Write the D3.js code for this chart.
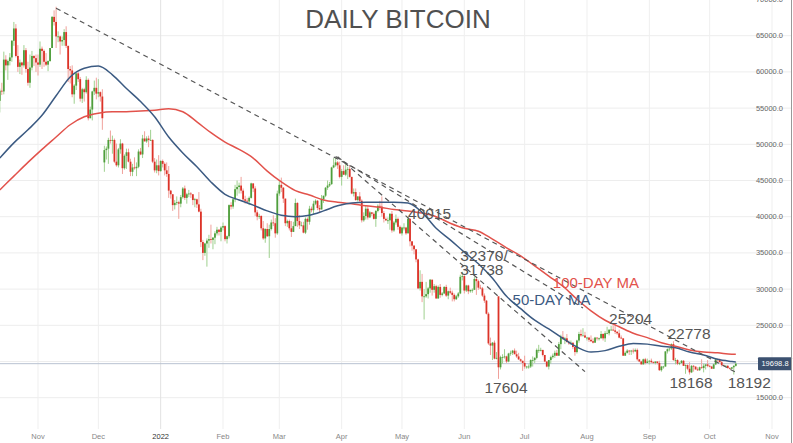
<!DOCTYPE html>
<html><head><meta charset="utf-8">
<script src="https://cdn.jsdelivr.net/npm/d3@7/dist/d3.min.js"></script>
<style>html,body{margin:0;padding:0;background:#fff;}svg{display:block;font-family:"Liberation Sans",Arial,Helvetica,sans-serif;}</style>
</head><body><svg id="chart" width="793" height="443"></svg>
<script>
// ---------------- DATA (prices in thousands of USD) ----------------
const startDate = "2021-10-13";          // first daily candle
const firstOpen = 56.0;                  // open of the first candle
// opens that do not equal the previous close (gaps in the feed)
const openGaps = [["2021-12-04", 47.5], ["2022-06-18", 29.0]];

const closes = [
// Oct 2021 (13-31)
57.4,57.3,61.7,60.9,61.5,62.0,64.3,66.0,62.2,60.7,61.3,60.9,63.0,60.4,58.5,60.6,62.2,61.9,61.3,
// Nov
61.0,63.2,62.9,61.4,61.0,61.5,63.3,67.6,66.9,64.9,64.9,64.2,64.4,65.5,63.6,60.4,60.2,56.9,58.1,59.8,59.0,56.3,57.6,57.2,58.9,53.6,54.8,57.3,57.8,57.0,
// Dec
57.2,56.6,53.6,49.2,49.4,50.6,50.5,50.6,47.6,47.1,49.3,50.1,46.7,48.4,48.9,47.6,46.2,46.8,46.7,46.9,49.0,48.6,50.8,50.4,50.8,50.6,50.6,47.6,46.4,47.1,46.3,
// Jan 2022
47.7,47.3,46.4,45.9,43.6,43.1,41.6,41.9,42.0,41.8,42.7,43.9,42.6,43.1,43.2,43.1,42.3,42.4,41.7,40.7,36.5,35.0,36.3,36.7,36.9,36.8,37.1,37.7,38.2,37.9,38.5,
// Feb
38.7,36.9,37.3,41.6,41.4,42.4,43.8,44.1,44.3,43.6,42.4,42.2,42.1,42.6,44.6,43.9,40.6,40.0,40.1,38.4,37.0,38.3,37.3,38.3,39.2,39.1,37.7,43.2,
// Mar
44.4,44.0,42.5,39.1,39.4,38.4,37.9,38.7,41.9,39.4,38.8,38.8,37.8,39.7,39.3,41.1,40.9,41.8,42.2,41.2,41.0,42.4,42.9,44.0,44.3,44.5,46.8,47.1,47.5,47.1,45.5,
// Apr
46.3,45.8,46.5,46.6,45.5,43.2,43.4,42.3,42.8,42.2,39.5,40.1,41.1,39.9,40.6,40.4,39.7,40.8,41.5,41.4,40.5,39.7,39.5,39.5,40.4,38.1,39.2,39.7,38.6,37.7,
// May
38.5,38.5,37.7,39.7,36.6,36.0,35.5,34.1,30.1,31.0,29.0,29.0,29.3,30.1,31.3,29.9,30.4,28.7,30.3,29.2,29.4,30.3,29.1,29.7,29.5,29.2,28.6,29.0,29.4,31.7,31.8,
// Jun
29.8,30.5,29.7,29.9,29.9,31.4,31.1,30.2,30.1,29.1,28.4,26.6,22.5,22.2,22.6,20.4,20.5,19.2,20.6,20.6,20.7,20.0,21.1,21.2,21.5,21.0,20.7,20.3,20.1,19.8,
// Jul
19.3,19.3,19.3,20.2,20.2,20.5,21.6,21.6,21.6,20.9,20.0,19.3,20.2,20.6,20.8,21.2,20.8,22.4,23.4,23.2,23.2,22.7,22.5,22.6,22.0,21.3,22.9,23.8,23.6,23.6,23.3,
// Aug
23.3,23.0,22.8,22.6,23.3,23.2,23.2,23.8,23.2,23.9,23.9,24.4,24.4,24.3,24.1,23.9,23.3,23.2,20.8,21.2,21.5,21.4,21.5,21.4,21.6,20.3,20.0,19.6,20.3,19.8,20.0,
// Sep
20.1,19.9,19.8,20.0,19.8,18.8,19.3,19.3,21.4,21.7,21.8,22.4,20.2,20.2,19.7,19.8,20.1,19.4,19.5,19.0,18.5,19.4,19.3,18.9,18.8,19.2,19.1,19.4,19.6,19.4,
// Oct (1-14)
19.3,19.0,19.6,20.3,20.2,19.9,19.5,19.4,19.4,19.1,19.0,19.2,19.4,19.7];

const highs = [
57.7,58.5,62.8,62.3,61.7,62.6,64.4,66.9,66.6,63.7,61.7,61.4,63.7,63.3,61.4,62.4,62.9,62.3,62.4,
62.4,64.2,63.5,63.1,62.6,61.6,63.3,67.7,68.5,69.0,65.6,65.0,64.9,65.9,66.3,63.6,60.8,60.9,58.3,59.8,60.0,59.3,57.8,57.8,59.4,59.1,55.2,57.4,58.8,59.2,
59.0,57.3,57.6,49.8,49.7,50.9,51.9,51.2,50.8,50.1,49.5,50.7,50.2,48.6,49.4,49.4,48.0,47.3,48.2,47.5,49.3,49.5,51.3,51.8,51.1,51.2,52.0,50.7,48.1,47.9,48.5,
47.8,47.9,47.5,47.5,47.0,43.7,43.1,42.3,42.8,42.2,43.0,44.1,44.3,43.3,43.7,43.4,43.1,42.6,42.5,43.4,41.1,36.8,36.4,37.0,37.5,38.9,37.2,38.0,38.6,38.3,38.7,
39.2,38.8,37.4,41.7,42.0,42.6,44.4,45.0,44.7,45.5,43.9,42.9,42.6,42.8,44.7,44.6,44.2,40.9,40.4,40.2,39.4,38.4,39.1,38.9,39.6,40.2,39.8,43.6,
44.9,45.4,44.1,42.5,39.6,39.6,39.4,39.3,42.5,42.0,40.2,39.3,39.3,39.9,39.9,41.5,41.4,42.2,42.4,42.3,41.6,43.0,42.9,44.1,45.0,44.8,46.9,48.1,48.2,47.7,47.6,
46.6,47.1,47.3,46.9,47.1,45.5,43.9,43.9,42.8,43.4,42.4,40.6,41.5,41.5,40.8,40.6,40.6,40.9,41.7,42.2,42.8,40.8,39.9,39.9,40.5,40.8,39.4,40.3,39.9,38.8,
38.6,39.1,38.6,40.0,39.8,36.6,36.1,35.5,34.2,32.6,32.1,30.0,31.0,30.3,31.4,31.3,30.7,30.6,30.5,30.7,29.6,30.4,30.6,29.8,30.2,29.8,29.4,29.2,29.6,32.0,32.4,
31.9,30.6,30.6,29.9,30.1,31.7,31.5,31.3,30.6,30.3,29.4,28.5,26.8,23.3,22.7,22.9,21.3,29.0,20.8,21.0,21.7,20.8,21.2,21.5,21.6,21.8,21.5,21.2,20.4,20.1,
20.8,19.4,19.6,20.3,20.7,20.6,21.8,22.3,21.9,21.6,20.9,20.0,20.2,20.8,21.1,21.5,21.6,22.7,23.7,24.2,23.4,23.8,22.9,22.9,22.6,21.9,23.0,24.1,24.4,24.6,24.1,
23.4,23.4,23.6,23.2,23.4,23.3,23.3,24.2,23.9,24.2,24.8,24.4,24.9,25.0,25.2,24.2,24.4,23.6,23.2,21.4,21.7,21.6,21.6,21.8,21.8,21.8,20.3,20.1,20.4,20.5,20.4,
20.2,20.4,20.0,20.0,20.0,20.1,19.4,19.4,21.4,21.8,21.8,22.5,22.8,20.5,20.3,19.9,20.2,20.2,19.6,19.6,19.9,19.5,19.5,19.3,19.2,19.3,20.3,19.7,19.6,20.2,
19.5,19.4,19.7,20.4,20.4,20.4,20.1,19.6,19.5,19.5,19.2,19.2,19.5,19.9];

const lows = [
54.4,56.8,56.9,60.2,58.9,60.9,61.4,63.6,62.0,60.0,59.7,59.6,60.6,59.9,58.1,57.8,60.2,60.8,60.0,
59.5,60.7,60.4,60.7,60.8,60.1,61.4,63.3,66.4,63.3,64.1,62.4,63.6,63.6,63.3,58.6,58.4,56.5,55.6,57.5,58.6,55.9,55.7,55.9,57.0,53.3,53.6,53.3,56.8,56.2,
56.5,55.9,52.0,46.2,47.9,47.3,50.1,48.7,47.4,46.9,46.8,48.7,45.9,46.5,46.6,47.5,45.6,45.6,46.5,45.6,46.7,48.5,48.1,50.4,50.2,49.6,50.5,47.4,46.1,46.0,45.7,
46.2,46.8,45.7,45.5,42.6,42.5,40.8,41.0,41.6,39.7,41.3,42.5,42.3,41.8,42.7,42.6,41.6,41.3,41.2,40.6,35.8,34.0,34.6,33.1,35.7,36.3,35.5,36.2,37.4,37.4,36.6,
38.1,36.6,36.3,37.0,41.0,41.1,42.0,42.9,43.2,43.2,42.1,41.8,41.9,41.6,42.5,43.4,40.1,39.5,39.7,38.1,36.8,36.4,37.2,34.3,38.1,38.7,37.1,37.5,
42.9,43.4,41.9,38.7,38.6,38.1,37.2,37.9,38.7,38.6,38.3,38.7,37.7,37.6,38.2,38.9,40.6,40.3,41.6,40.9,40.5,41.0,41.9,42.7,43.7,44.1,44.4,46.7,46.9,46.6,45.3,
44.3,45.8,45.6,45.2,45.4,43.1,42.8,42.2,42.1,42.0,39.2,39.3,39.6,39.6,39.8,40.1,39.6,38.6,40.6,40.9,40.0,39.2,39.4,39.0,38.2,37.8,37.9,38.9,38.2,37.6,
37.4,38.1,37.5,37.7,35.9,35.3,34.8,33.7,30.0,29.8,28.2,25.8,28.8,28.7,29.5,29.1,29.5,28.7,28.7,28.8,29.0,29.3,28.9,28.6,29.3,28.3,28.3,28.5,28.8,29.3,31.2,
29.4,29.6,29.3,29.5,29.5,29.9,29.2,29.9,30.0,28.9,28.1,26.5,22.3,20.9,20.2,20.3,20.3,17.6,18.9,19.7,20.4,19.8,19.9,20.8,20.9,21.0,20.5,20.2,19.9,18.7,
19.0,19.0,19.0,19.1,19.3,19.8,20.3,21.2,21.4,20.7,19.9,19.2,18.9,19.7,20.4,20.5,20.8,20.8,21.7,23.0,22.4,22.6,22.3,22.3,21.7,20.8,21.1,22.6,23.4,23.6,23.3,
22.9,22.7,22.7,22.5,22.6,22.9,22.9,23.2,22.9,22.7,23.9,23.6,24.3,24.2,23.8,23.7,23.2,23.1,20.8,20.8,21.1,20.9,20.9,21.1,21.3,20.1,19.9,19.6,19.6,19.6,19.8,
19.6,19.8,19.7,19.6,19.6,18.7,18.6,19.0,19.3,21.1,21.4,21.6,20.1,19.6,19.5,19.5,19.7,19.4,18.3,18.8,18.2,18.4,18.6,18.9,18.7,18.7,19.0,18.5,18.9,19.2,
19.2,19.0,19.0,19.5,19.8,19.9,19.3,19.4,19.3,19.0,18.9,19.0,18.2,19.3];

// moving averages, one value every 7 days from startDate (last one = final day)
const maStepDays = 7;
const ma50 = [48.1,50.2,52.0,54.0,56.7,59.3,60.5,60.8,59.6,57.7,55.9,53.8,51.0,48.8,46.9,44.8,43.1,42.3,41.6,40.8,
  40.2,40.0,40.2,40.8,41.5,41.9,42.0,42.0,42.0,41.9,40.6,38.4,36.8,35.1,33.5,31.5,29.0,27.3,25.7,24.5,
  23.2,22.0,21.3,21.5,22.1,22.5,22.4,22.1,21.9,21.3,20.9,20.3,20.0,19.93];
const ma100 = [43.7,45.6,47.5,49.3,51.0,52.7,53.8,54.3,54.5,54.5,54.6,54.7,54.9,54.5,53.1,51.6,50.3,49.3,48.1,46.3,
  44.8,43.6,43.0,42.3,42.0,41.8,41.5,41.3,41.0,40.8,40.5,40.0,39.1,38.4,38.0,36.9,35.7,34.6,33.2,31.8,
  30.4,28.6,27.0,25.7,24.8,23.9,23.3,22.6,22.1,21.6,21.3,21.2,21.0,21.0];

// dashed trend lines [start, end] as [date, price]
const trendLines = [
  [["2021-11-10", 68.8], ["2022-10-14", 18.5]],
  [["2022-03-29", 48.3], ["2022-07-30", 27.4]],
  [["2022-03-30", 48.3], ["2022-07-31", 18.6]]
];

const lastPrice = 19.6988;
const yTicks = [15,20,25,30,35,40,45,50,55,60,65,70];
const monthTicks = ["2021-11-01","2021-12-01","2022-01-01","2022-02-01","2022-03-01","2022-04-01","2022-05-01",
  "2022-06-01","2022-07-01","2022-08-01","2022-09-01","2022-10-01","2022-11-01"];
const monthLabels = ["Nov","Dec","2022","Feb","Mar","Apr","May","Jun","Jul","Aug","Sep","Oct","Nov"];

// annotations: text lines, anchor date, anchor price (first baseline, left aligned)
const notes = [
  [["40015"], "2022-05-04", 39.68],
  [["32370/", "31738"], "2022-05-30", 33.88],
  [["25204"], "2022-08-12", 25.18],
  [["22778"], "2022-09-10", 23.11],
  [["17604"], "2022-06-11", 15.65],
  [["18168"], "2022-09-11", 16.34],
  [["18192"], "2022-10-10", 16.34]
];
const maNotes = [["100-DAY MA", "2022-07-15", 30.22, "ma100"], ["50-DAY MA", "2022-06-25", 27.87, "ma50"]];

// ---------------- DRAW ----------------
const parse = d3.timeParse("%Y-%m-%d");
const start = parse(startDate);
const svg = d3.select("#chart");
const W = 793, H = 443;

const x = d3.scaleTime().domain([parse("2021-11-01"), parse("2022-11-01")]).range([38, 772]);
const y = d3.scaleLinear().domain([20, 70]).range([361.5, -0.5]);

const gapMap = new Map(openGaps.map(d => [d[0], d[1]]));
const fmt = d3.timeFormat("%Y-%m-%d");
const candles = closes.map((c, i) => {
  const date = d3.timeDay.offset(start, i);
  const key = fmt(date);
  let open = i === 0 ? firstOpen : closes[i - 1];
  if (gapMap.has(key)) open = gapMap.get(key);
  return {date, open, close: c, high: highs[i], low: lows[i]};
});

// grid
const grid = svg.append("g");
grid.selectAll("line.h").data(yTicks).join("line")
  .attr("x1", 0).attr("x2", 791).attr("y1", d => y(d)).attr("y2", d => y(d))
  .attr("stroke", "#ededed").attr("stroke-width", 1);
grid.selectAll("line.v").data(monthTicks).join("line")
  .attr("x1", d => x(parse(d))).attr("x2", d => x(parse(d)))
  .attr("y1", 0).attr("y2", 429)
  .attr("stroke", (d, i) => monthLabels[i] === "2022" ? "#e2e2e2" : "#efefef").attr("stroke-width", 1);

// title
svg.append("text").attr("x", 398).attr("y", 28).attr("text-anchor", "middle")
  .attr("font-size", 26).attr("fill", "#505050").text("DAILY BITCOIN");

// current price line
svg.append("line").attr("x1", 0).attr("x2", 758).attr("y1", y(lastPrice)).attr("y2", y(lastPrice))
  .attr("stroke", "#b8c2d2").attr("stroke-width", 1);

// candles
const bw = 1.8;
const cg = svg.append("g");
cg.selectAll("line.wick").data(candles).join("line")
  .attr("x1", d => x(d.date)).attr("x2", d => x(d.date))
  .attr("y1", d => y(d.high)).attr("y2", d => y(d.low))
  .attr("stroke", d => d.close >= d.open ? "#9fd08f" : "#f0a19b").attr("stroke-width", 1);
cg.selectAll("rect.body").data(candles).join("rect")
  .attr("x", d => x(d.date) - bw / 2).attr("width", bw)
  .attr("y", d => y(Math.max(d.open, d.close)))
  .attr("height", d => Math.max(0.8, Math.abs(y(d.open) - y(d.close))))
  .attr("fill", d => d.close >= d.open ? "#4f9e3c" : "#dc3328");

// moving averages
const maLine = d3.line().x(d => x(d[0])).y(d => y(d[1])).curve(d3.curveMonotoneX);
function maPoints(vals) {
  return vals.map((v, i) => {
    const off = i === vals.length - 1 ? closes.length - 1 : i * maStepDays;
    return [d3.timeDay.offset(start, off), v];
  });
}
svg.append("path").datum(maPoints(ma100)).attr("d", maLine)
  .attr("fill", "none").attr("stroke", "#e2524b").attr("stroke-width", 1.5);
svg.append("path").datum(maPoints(ma50)).attr("d", maLine)
  .attr("fill", "none").attr("stroke", "#3b5a82").attr("stroke-width", 1.5);

// trend lines
svg.append("g").selectAll("line").data(trendLines).join("line")
  .attr("x1", d => x(parse(d[0][0]))).attr("y1", d => y(d[0][1]))
  .attr("x2", d => x(parse(d[1][0]))).attr("y2", d => y(d[1][1]))
  .attr("stroke", "#555").attr("stroke-width", 1.2).attr("stroke-dasharray", "5,4");

// annotations
const nt = svg.append("g").selectAll("text").data(notes).join("text")
  .attr("x", d => x(parse(d[1]))).attr("y", d => y(d[2]))
  .attr("font-size", 15.5).attr("fill", "#555");
nt.each(function(d) {
  const t = d3.select(this), x0 = x(parse(d[1]));
  d[0].forEach((line, i) => t.append("tspan").attr("x", x0).attr("dy", i === 0 ? 0 : 14).text(line));
});
svg.append("g").selectAll("text").data(maNotes).join("text")
  .attr("x", d => x(parse(d[1]))).attr("y", d => y(d[2]))
  .attr("font-size", 15).attr("fill", d => d[3] === "ma100" ? "#e2524b" : "#3b5a82").text(d => d[0]);

// y labels (the 20000 label sits under the price box and is not shown)
svg.append("g").selectAll("text").data(yTicks.filter(d => Math.abs(y(d) - y(lastPrice)) > 8)).join("text")
  .attr("x", 783).attr("y", d => y(d) + 2.5).attr("text-anchor", "end")
  .attr("font-size", 7.5).attr("fill", "#666").text(d => (d * 1000).toFixed(1));

// price box
svg.append("rect").attr("x", 758).attr("y", y(lastPrice) - 6.5).attr("width", 34).attr("height", 13)
  .attr("fill", "#3c5170").attr("rx", 1);
svg.append("text").attr("x", 775).attr("y", y(lastPrice) + 2.6).attr("text-anchor", "middle")
  .attr("font-size", 7.5).attr("fill", "#fff").text((lastPrice * 1000).toFixed(1));

// x labels
svg.append("g").selectAll("text").data(monthTicks).join("text")
  .attr("x", d => x(parse(d))).attr("y", 439).attr("text-anchor", "middle")
  .attr("font-size", 7.5)
  .attr("fill", (d, i) => monthLabels[i] === "2022" ? "#333" : "#888")
  .text((d, i) => monthLabels[i]);

// right border
svg.append("line").attr("x1", 791.5).attr("x2", 791.5).attr("y1", 0).attr("y2", H)
  .attr("stroke", "#999").attr("stroke-width", 1);
</script></body></html>
